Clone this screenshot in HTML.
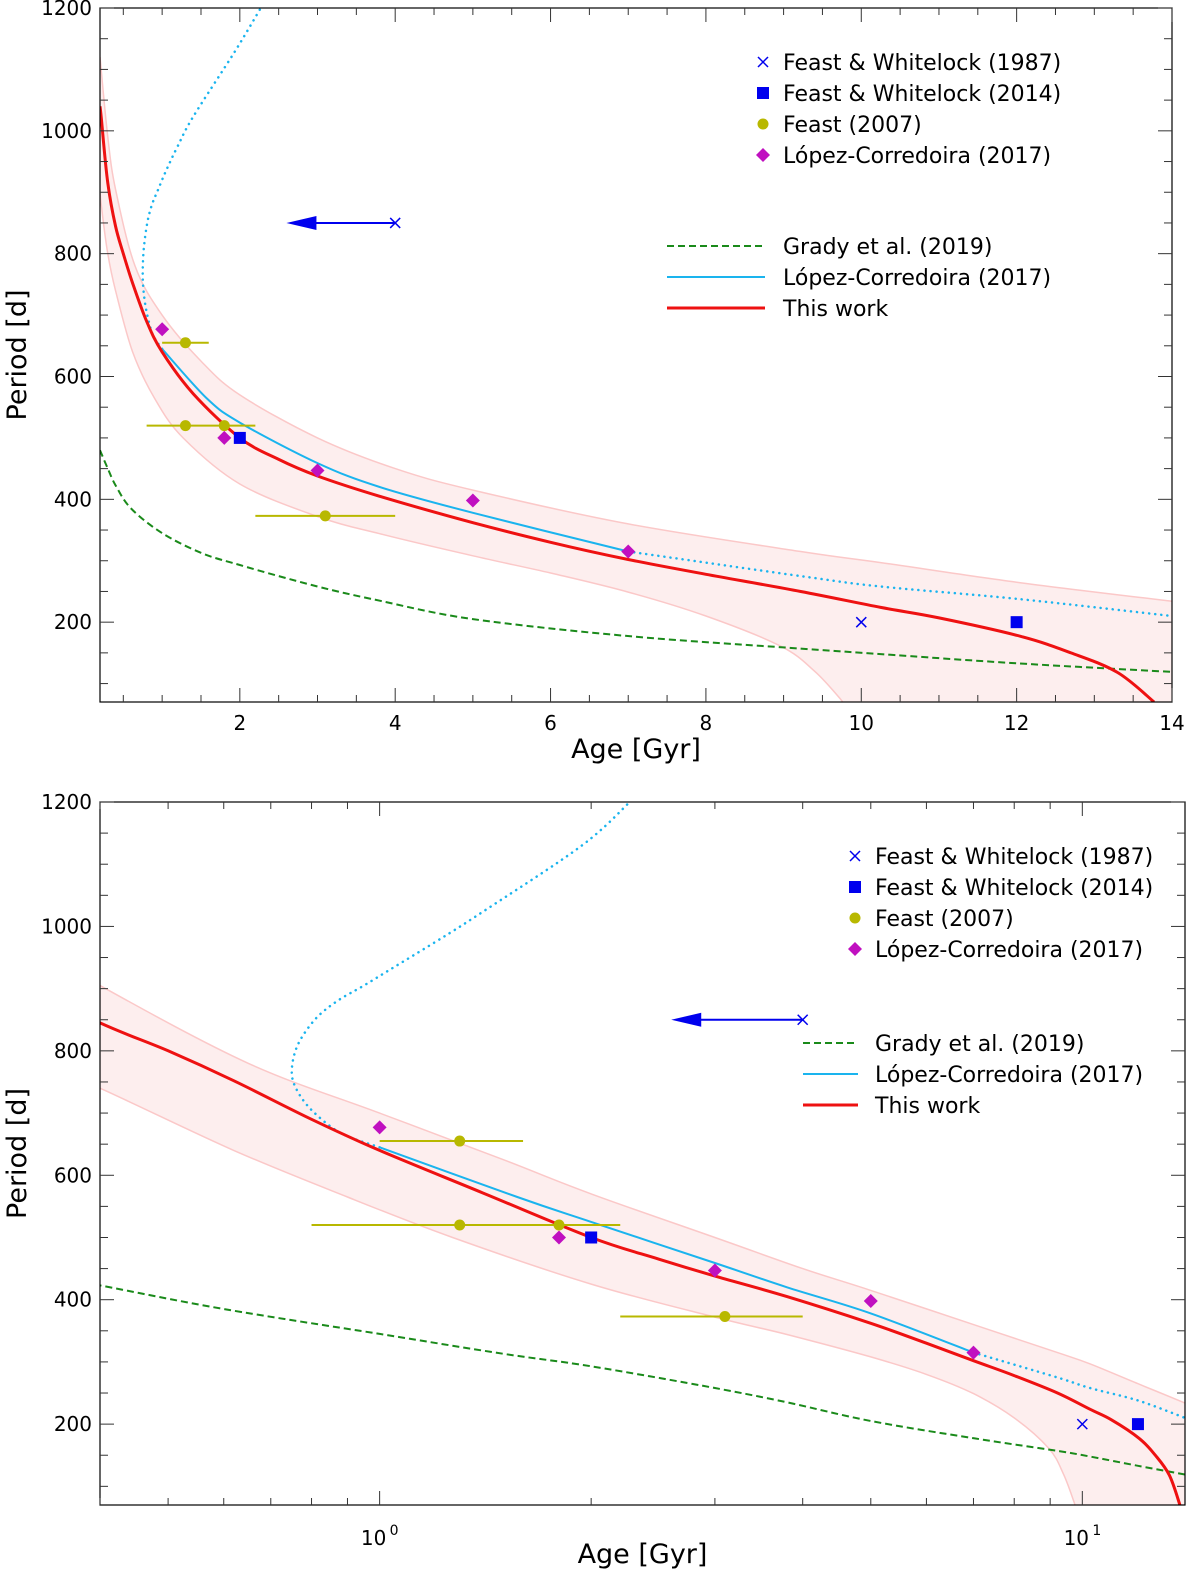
<!DOCTYPE html>
<html><head><meta charset="utf-8"><style>
body{margin:0;background:#fff}
svg{display:block;font-family:"DejaVu Sans","Liberation Sans",sans-serif}
</style></head><body>
<svg id="s" width="1200" height="1579" viewBox="0 0 1200 1579"></svg>
<script>
const redAge=[0.2,0.22,0.3,0.4,0.5,0.62,0.8,1,1.4,2,2.5,3,3.8,5,6,7,8,9.22,10.25,11,12.05,12.7,13.3,13.77];
const redP=[1040,1016,915,845,800,752,690,640,572,500,465,438,405,362,330,302,278,250,224,207,177,150,118,70];
const upAge=[0.2,0.3,0.4,0.65,1,1.5,2,3,4,5,7,9.22,10.25,12,14];
const upP=[1120,990,905,780,700,625,570,500,450,415,360,315,297,265,234];
const loAge=[0.2,0.22,0.3,0.4,0.62,0.9,1.27,2,3,3.8,5,6,7,8,8.96,9.4,9.73,9.8];
const loP=[900,875,800,740,640,565,500,425,372,344,308,280,249,210,161,120,75,60];
const cyAge=[1,1.57,2,3,3.8,5,7];
const cyP=[645,565,525,459,420,378,315];
const cyDotAge=[7,9.22,10.25,12,14];
const cyDotP=[315,275,258,238,210];
const cyNoseAge=[1,0.88,0.8,0.76,0.75,0.765,0.81,0.87,0.95,1.05,1.2,1.4,1.94,2.27];
const cyNoseP=[645,668,705,740,770,810,851,880,905,935,975,1023,1130,1200];
const grAge=[0.2,0.3,0.4,0.6,1,1.5,2,3,3.8,5,7.03,9.22,10.25,12,14];
const grP=[480,450,423,385,345,313,293,258,235,205,177,157,148,133,119];
const fw87Age=[10], fw87P=[200];
const fw87LimAge=[4], fw87LimP=[850], fw87LimTo=[2.6];
const fw14Age=[2,12], fw14P=[500,200];
const f07Age=[1.3,1.3,1.8,3.1], f07P=[655,520,520,373], f07Lo=[1.0,0.8,1.8,2.2], f07Hi=[1.6,2.2,1.8,4.0];
const lcAge=[1,1.8,3,5,7], lcP=[677,500,447,398,315];
const yTicks=[200,400,600,800,1000,1200];
const xTicksLin=[2,4,6,8,10,12,14];

const S=document.getElementById('s');
const NS='http://www.w3.org/2000/svg';
function el(t,a,p){const e=document.createElementNS(NS,t);for(const k in a)e.setAttribute(k,a[k]);(p||S).appendChild(e);return e;}
function smooth(P){
  let d='M'+P[0][0].toFixed(1)+','+P[0][1].toFixed(1);
  for(let i=0;i<P.length-1;i++){
    const p0=P[i-1]||P[i],p1=P[i],p2=P[i+1],p3=P[i+2]||P[i+1];
    const c1=[p1[0]+(p2[0]-p0[0])/6,p1[1]+(p2[1]-p0[1])/6];
    const c2=[p2[0]-(p3[0]-p1[0])/6,p2[1]-(p3[1]-p1[1])/6];
    d+='C'+c1.map(v=>v.toFixed(1))+' '+c2.map(v=>v.toFixed(1))+' '+p2.map(v=>v.toFixed(1));
  }
  return d;
}

function panel(cfg){
  const g=el('g',{});
  
  
  const L=100,R=cfg.R,T=cfg.T,B=cfg.B;
  const X=cfg.log?(a=>L+(Math.log10(a)-Math.log10(cfg.xmin))/(Math.log10(cfg.xmax)-Math.log10(cfg.xmin))*(R-L)):(a=>L+(a-cfg.xmin)/(cfg.xmax-cfg.xmin)*(R-L));
  const Y=p=>B-(p-70)/(1200-70)*(B-T);
  const cid='c'+cfg.name;
  const cp=el('clipPath',{id:cid},g);el('rect',{x:L,y:T,width:R-L,height:B-T},cp);
  const pg=el('g',{'clip-path':'url(#'+cid+')'},g);
  const pp=(A,P)=>A.map((a,i)=>[X(a),Y(P[i])]);
  const up=pp(upAge,upP), lo=pp(loAge,loP);
  let d=smooth(up)+'L'+X(14).toFixed(1)+','+(B+5)+'L'+smooth(lo.slice().reverse()).slice(1)+'Z';
  const band=el('path',{d:d,fill:'#fdeeee',stroke:'none'},pg);
  
  
  el('path',{d:smooth(up),fill:'none',stroke:'#fbc8c8','stroke-width':1.5},pg);
  el('path',{d:smooth(lo),fill:'none',stroke:'#fbc8c8','stroke-width':1.5},pg);
  const gr=el('path',{d:smooth(pp(grAge,grP)),fill:'none',stroke:'#1a8a1a','stroke-width':2,'stroke-dasharray':'7,4'},pg);
  
  
  const c1=el('path',{d:smooth(pp(cyAge,cyP)),fill:'none',stroke:'#1ab4ee','stroke-width':2},pg);
  
  
  el('path',{d:smooth(pp(cyDotAge,cyDotP)),fill:'none',stroke:'#1ab4ee','stroke-width':2.5,'stroke-dasharray':'0.1,6','stroke-linecap':'round'},pg);
  el('path',{d:smooth(pp(cyNoseAge,cyNoseP)),fill:'none',stroke:'#1ab4ee','stroke-width':2.5,'stroke-dasharray':'0.1,6','stroke-linecap':'round'},pg);
  const rd=el('path',{d:smooth(pp(redAge,redP)),fill:'none',stroke:'#ee1111','stroke-width':3},pg);
  
  
  f07Age.forEach((a,i)=>{
    el('line',{x1:X(f07Lo[i]),x2:X(f07Hi[i]),y1:Y(f07P[i]),y2:Y(f07P[i]),stroke:'#b8b800','stroke-width':2},pg);
    const c=el('circle',{cx:X(a),cy:Y(f07P[i]),r:5.5,fill:'#b8b800'},pg);
    
    
  });
  fw14Age.forEach((a,i)=>{const r=el('rect',{x:X(a)-6,y:Y(fw14P[i])-6,width:12,height:12,fill:'#0000ee'},pg);
    
    });
  lcAge.forEach((a,i)=>{const x=X(a),y=Y(lcP[i]);const r=el('polygon',{points:`${x},${y-7} ${x+7},${y} ${x},${y+7} ${x-7},${y}`,fill:'#c010c0'},pg);
    
    });
  const cross=(x,y)=>{el('path',{d:`M${x-5},${y-5}L${x+5},${y+5}M${x-5},${y+5}L${x+5},${y-5}`,stroke:'#0000ee','stroke-width':1.5},pg);};
  fw87Age.forEach((a,i)=>cross(X(a),Y(fw87P[i])));
  fw87LimAge.forEach((a,i)=>{const x=X(a),y=Y(fw87LimP[i]),x2=X(fw87LimTo[i]);
    cross(x,y);
    el('line',{x1:x,x2:x2+20,y1:y,y2:y,stroke:'#0000ee','stroke-width':2},pg);
    const h=el('polygon',{points:`${x2},${y} ${x2+30},${y-7} ${x2+30},${y+7}`,fill:'#0000ee'},pg);
    
    });
  el('rect',{x:L,y:T,width:R-L,height:B-T,fill:'none',stroke:'#000','stroke-width':1.2},g);
  const tk=(x1,y1,x2,y2)=>el('line',{x1,y1,x2,y2,stroke:'#333','stroke-width':1},g);
  yTicks.forEach(v=>{const y=Y(v);tk(L,y,L+14,y);tk(R,y,R-14,y);
    const t=el('text',{x:L-8,y:y+7,'text-anchor':'end','font-size':20},g);t.textContent=v;
    });
  for(let v=100;v<1200;v+=50){if(v%200){const y=Y(v);tk(L,y,L+8,y);tk(R,y,R-8,y);}}
  if(!cfg.log){
    xTicksLin.forEach(v=>{const x=X(v);tk(x,B,x,B-14);tk(x,T,x,T+14);
      const t=el('text',{x:x,y:B+28,'text-anchor':'middle','font-size':20},g);t.textContent=v;
      });
    for(let v=0.5;v<14;v+=0.5){if(v%2){const x=X(v);tk(x,B,x,B-7);tk(x,T,x,T+7);}}
  }else{
    [1,10].forEach(v=>{const x=X(v);tk(x,B,x,B-14);tk(x,T,x,T+14);
      const t=el('text',{x:x-6,y:B+40,'text-anchor':'middle','font-size':20},g);t.textContent='10';
      
      const e=el('text',{x:x+10,y:B+30,'font-size':14},g);e.textContent=v==1?'0':'1';});
    [0.4,0.5,0.6,0.7,0.8,0.9,2,3,4,5,6,7,8,9].forEach(v=>{const x=X(v);tk(x,B,x,B-7);tk(x,T,x,T+7);});
  }
  const xl=el('text',{x:(L+R)/2,y:B+cfg.xlab,'text-anchor':'middle','font-size':27},g);xl.textContent='Age [Gyr]';
  
  const yl=el('text',{x:0,y:0,'text-anchor':'middle','font-size':27,transform:`translate(26,${(T+B)/2}) rotate(-90)`},g);yl.textContent='Period [d]';
  
  const lx=cfg.mx, ty=cfg.my;
  const mk=[['Feast & Whitelock (1987)','x'],['Feast & Whitelock (2014)','s'],['Feast (2007)','c'],['López-Corredoira (2017)','d']];
  mk.forEach((m,i)=>{const y=ty+i*31;const le=el('g',{},g);
    
    if(m[1]=='x')el('path',{d:`M${lx-5},${y-5}L${lx+5},${y+5}M${lx-5},${y+5}L${lx+5},${y-5}`,stroke:'#0000ee','stroke-width':1.5},le);
    if(m[1]=='s')el('rect',{x:lx-6,y:y-6,width:12,height:12,fill:'#0000ee'},le);
    if(m[1]=='c')el('circle',{cx:lx,cy:y,r:5.5,fill:'#b8b800'},le);
    if(m[1]=='d')el('polygon',{points:`${lx},${y-7} ${lx+7},${y} ${lx},${y+7} ${lx-7},${y}`,fill:'#c010c0'},le);
    const t=el('text',{x:lx+20,y:y+8,'font-size':22},le);t.textContent=m[0];});
  const ln=[['Grady et al. (2019)','#1a8a1a','7,4',2],['López-Corredoira (2017)','#1ab4ee','',2],['This work','#ee1111','',3]];
  ln.forEach((m,i)=>{const y=cfg.ly+i*31;const le=el('g',{},g);
    
    el('line',{x1:cfg.lx1,x2:cfg.lx2,y1:y,y2:y,stroke:m[1],'stroke-width':m[3],'stroke-dasharray':m[2]},le);
    const t=el('text',{x:lx+20,y:y+8,'font-size':22},le);t.textContent=m[0];});
}
panel({name:'linear-panel',log:false,xmin:0.2,xmax:14,R:1172,T:8,B:702,xlab:56,mx:763,my:62,ly:246,lx1:667,lx2:765});
panel({name:'log-panel',log:true,xmin:0.4,xmax:14,R:1185,T:802,B:1505,xlab:58,mx:855,my:856,ly:1043,lx1:803,lx2:858});
</script>
</body></html>
